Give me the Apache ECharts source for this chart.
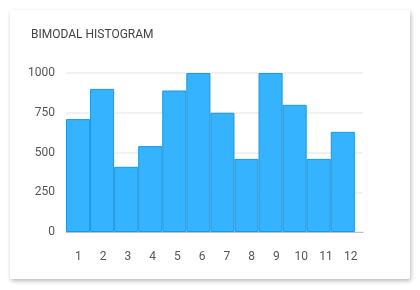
<!DOCTYPE html>
<html>
<head>
<meta charset="utf-8">
<script src="https://cdn.jsdelivr.net/npm/echarts@6/dist/echarts.min.js"></script>
<style>
  html, body { margin: 0; padding: 0; background: #ffffff; width: 420px; height: 290px; overflow: hidden; }
  #card { position: absolute; left: 10px; top: 10px; width: 400px; height: 269px; background: #fff;
          border-radius: 2px; box-shadow: 1px 2px 4px rgba(0,0,0,0.28); }
  #chart { width: 400px; height: 269px; }
</style>
</head>
<body>
<div id="card"><div id="chart"></div></div>
<script>
const titleText = 'BIMODAL HISTOGRAM';
const categories = ['1','2','3','4','5','6','7','8','9','10','11','12'];
const counts = [710, 900, 410, 540, 890, 1000, 750, 460, 1000, 800, 460, 630];
const yTicks = [0, 250, 500, 750, 1000];

const barData = categories.map((c, i) => [Number(c), counts[i]]);

const chart = echarts.init(document.getElementById('chart'), null, { renderer: 'canvas' });
chart.setOption({
  animation: false,
  title: {
    text: titleText, left: 16, top: 14,
    textStyle: { fontFamily: 'Roboto', fontSize: 12, fontWeight: 'normal', color: '#444' }
  },
  grid: { left: 56, right: 47, top: 63, bottom: 47 },
  xAxis: [
    {
      type: 'category', data: categories, boundaryGap: true, position: 'bottom',
      axisLine: { lineStyle: { color: '#bdbdbd', width: 1 } },
      axisTick: { alignWithLabel: true, length: 6, lineStyle: { color: '#bdbdbd' } },
      axisLabel: { margin: 19, fontFamily: 'Roboto', fontSize: 12, color: '#555' },
      splitLine: { show: false }
    },
    {
      type: 'value', min: 0.5, max: 12.84, show: false,
      splitLine: { show: false }
    }
  ],
  yAxis: {
    type: 'value', min: yTicks[0], max: yTicks[yTicks.length - 1], interval: 250,
    axisLine: { show: false }, axisTick: { show: false },
    axisLabel: { margin: 11, fontFamily: 'Roboto', fontSize: 12, color: '#555', formatter: v => String(v) },
    splitLine: { lineStyle: { color: '#ececec', width: 1.5 } }
  },
  series: [{
    type: 'bar', xAxisIndex: 1, data: barData, barWidth: 24.1,
    itemStyle: { color: '#35b3ff', borderColor: '#1a98e2', borderWidth: 1 }
  }]
});
</script>
</body>
</html>
